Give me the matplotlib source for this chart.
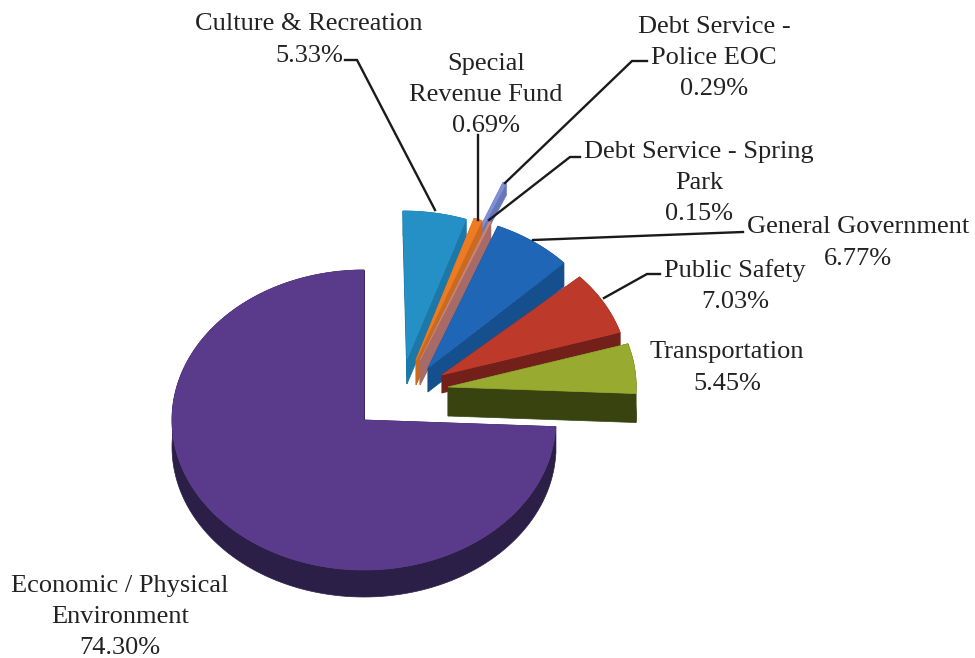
import numpy as np
import matplotlib
matplotlib.use("Agg")
import matplotlib.pyplot as plt

plt.rcParams['font.family'] = ['Liberation Serif', 'DejaVu Serif']

# slices in clockwise order, starting at twelve o'clock
categories = ["Culture & Recreation", "Special\nRevenue Fund", "Debt Service -\nPolice EOC",
              "Debt Service - Spring\nPark", "General Government", "Public Safety",
              "Transportation", "Economic / Physical\nEnvironment"]
percents = [5.33, 0.69, 0.29, 0.15, 6.77, 7.03, 5.45, 74.30]

top_colors = ["#2590c6", "#ee7b22", "#7f90d8", "#c8857f", "#1f66b6", "#bd3a2a", "#98aa30", "#5a3a8a"]
side_colors = ["#1c78a8", "#c96a1e", "#6577b8", "#a86a66", "#164f8e", "#74201a", "#39430f", "#2b1f48"]

# exploded slice offsets from the pie centre, radius scale and extrusion depth
shift_x = [39, 47, 68, 51, 58, 78, 84, 0]
shift_y = [-59, -60, -98, -60, -56, -45, -33, 0]
scale = [1, 1, 1, 1, 1, 0.97, 0.98, 1]
depths = [25, 25, 12, 25, 24, 18, 29, 27]
# perspective pulls the tip of the exploded slices inwards
tip_dx = [4, 5, 0, 5, 6, 0, 0, 0]
tip_dy = [-2, 0, 0, 0, 4, 0, 0, 0]
draw_order = [2, 0, 1, 3, 4, 5, 6, 7]

# label layout: centre of text block, then leader polyline
label_x = [309, 486, 714, 699, 858, 735, 727, 120]
label_y = [40, 95, 58, 183, 243, 286, 368, 617]
leaders = [
    [(345, 60), (357, 60), (435, 210)],
    [(478, 135), (478, 220)],
    [(647, 61), (632, 61), (505, 183)],
    [(580, 157), (570, 157), (489, 220)],
    [(743, 232), (533, 240)],
    [(660, 274), (647, 274), (604, 298)],
    [],
    [],
]

cx, cy = 364, 420
rx, ry = 192, 150

fig = plt.figure(figsize=(9.75, 6.58), dpi=100)
ax = fig.add_axes([0, 0, 1, 1])
ax.set_xlim(0, 975)
ax.set_ylim(658, 0)
ax.axis("off")

shares = np.array(percents) / np.sum(percents)
edges = 90 - 360 * np.concatenate([[0], np.cumsum(shares)])

for z, i in enumerate(draw_order):
    theta = np.radians(np.linspace(edges[i], edges[i + 1], 200))
    x0 = cx + shift_x[i]
    y0 = cy + shift_y[i]
    arc_x = x0 + scale[i] * rx * np.cos(theta)
    arc_y = y0 - scale[i] * ry * np.sin(theta)
    x0 = x0 + tip_dx[i]
    y0 = y0 + tip_dy[i]
    d = depths[i]

    # extruded walls: the two radial cuts, then the rim
    for ex, ey in [(arc_x[0], arc_y[0]), (arc_x[-1], arc_y[-1])]:
        ax.fill([x0, ex, ex, x0], [y0, ey, ey + d, y0 + d], color=side_colors[i], lw=0.5, zorder=2 + z)
    ax.fill(np.concatenate([arc_x, arc_x[::-1]]), np.concatenate([arc_y, arc_y[::-1] + d]),
            color=side_colors[i], lw=0.5, zorder=2 + z)
    ax.fill(np.concatenate([[x0], arc_x]), np.concatenate([[y0], arc_y]),
            color=top_colors[i], lw=0.5, zorder=2 + z)

for pts in leaders:
    if pts:
        px, py = zip(*pts)
        ax.plot(px, py, color="#1a1a1a", lw=1.7, zorder=20, solid_joinstyle="miter")

for name, p, x, y in zip(categories, percents, label_x, label_y):
    ax.text(x, y, "{}\n{:.2f}%".format(name, p), ha="center", va="center", multialignment="center",
            fontsize=19, color="#222222", linespacing=1.53, zorder=21)

fig.savefig("out.png", dpi=100)
